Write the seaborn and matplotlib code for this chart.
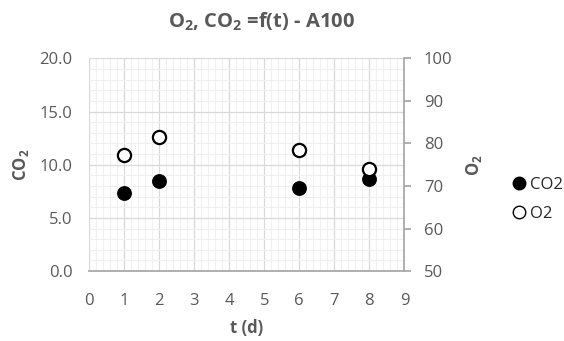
import matplotlib
matplotlib.use("Agg")
import matplotlib.pyplot as plt
from matplotlib.ticker import MultipleLocator
from matplotlib.lines import Line2D
import seaborn as sns
import pandas as pd

# Measurements for sample A100
days = [1, 2, 6, 8]
co2 = [7.3, 8.5, 7.85, 8.7]
o2 = [77.3, 81.4, 78.5, 74.0]

x_ticks = list(range(0, 10))
left_ticks = [0.0, 5.0, 10.0, 15.0, 20.0]
right_ticks = [50, 60, 70, 80, 90, 100]

sns.set_theme(style="white")
plt.rcParams["font.family"] = ["Open Sans", "DejaVu Sans"]
plt.rcParams["mathtext.fontset"] = "custom"
plt.rcParams["mathtext.rm"] = "Open Sans"
plt.rcParams["mathtext.bf"] = "Open Sans:bold"

grey = "#595959"
df = pd.DataFrame({"t": days, "CO2": co2, "O2": o2})

fig = plt.figure(figsize=(5.64, 3.41), dpi=100)
ax = fig.add_axes([0.158, 0.205, 0.559, 0.624])
ax2 = ax.twinx()

# grid: major and fine minor lines
ax.set_xlim(0, 9)
ax.set_ylim(0, 20)
ax.xaxis.set_major_locator(MultipleLocator(1))
ax.xaxis.set_minor_locator(MultipleLocator(0.2))
ax.yaxis.set_major_locator(MultipleLocator(5))
ax.yaxis.set_minor_locator(MultipleLocator(1))
ax.grid(which="major", color="#d9d9d9", linewidth=0.9)
ax.grid(which="minor", color="#f0f0f0", linewidth=0.8)
ax.set_axisbelow(True)

sns.scatterplot(data=df, x="t", y="CO2", ax=ax, color="black", s=90,
                edgecolor="black", linewidth=1.2, zorder=3, legend=False)
sns.scatterplot(data=df, x="t", y="O2", ax=ax2, color="white", s=90,
                edgecolor="black", linewidth=1.6, zorder=3, legend=False)

ax2.set_ylim(50, 100)
ax2.set_yticks(right_ticks)
ax2.set_yticklabels([str(v) for v in right_ticks])
ax.set_xticks(x_ticks)
ax.set_xticklabels([str(v) for v in x_ticks])
ax.set_yticks(left_ticks)
ax.set_yticklabels([f"{v:.1f}" for v in left_ticks])

for a in (ax, ax2):
    for s in a.spines.values():
        s.set_visible(False)
ax2.spines["right"].set_visible(True)
ax2.spines["right"].set_color("#a6a6a6")
ax2.spines["bottom"].set_visible(True)
ax2.spines["bottom"].set_color("#a6a6a6")

ax.tick_params(axis="both", which="both", length=0, labelsize=12,
               labelcolor=grey)
ax.tick_params(axis="y", pad=12)
ax.tick_params(axis="x", pad=16)
ax2.tick_params(axis="y", which="major", length=5, color="#a6a6a6",
                labelsize=12, labelcolor=grey, pad=9, direction="out")

ax.set_xlabel("t (d)", fontsize=12, fontweight="bold", color=grey, labelpad=7)
ax.set_ylabel(r"CO$_\mathbf{2}$", fontsize=12, fontweight="bold", color=grey, labelpad=6)
ax2.set_ylabel(r"O$_\mathbf{2}$", fontsize=12, fontweight="bold", color=grey, labelpad=8)

fig.text(0.463, 0.935, r"O$_\mathbf{2}$, CO$_\mathbf{2}$ =f(t) - A100", ha="center",
         va="center", fontsize=14.5, fontweight="bold", color=grey)

handles = [
    Line2D([], [], marker="o", linestyle="", markerfacecolor="black",
           markeredgecolor="black", markersize=9),
    Line2D([], [], marker="o", linestyle="", markerfacecolor="white",
           markeredgecolor="black", markeredgewidth=1.0, markersize=9),
]
fig.legend(handles, ["CO2", "O2"], loc="center left",
           bbox_to_anchor=(0.905, 0.415), frameon=False, fontsize=12,
           labelcolor="#262626", handletextpad=0.2, labelspacing=0.75,
           handlelength=1.0, borderaxespad=0, borderpad=0)

fig.savefig("out.png", dpi=100)
